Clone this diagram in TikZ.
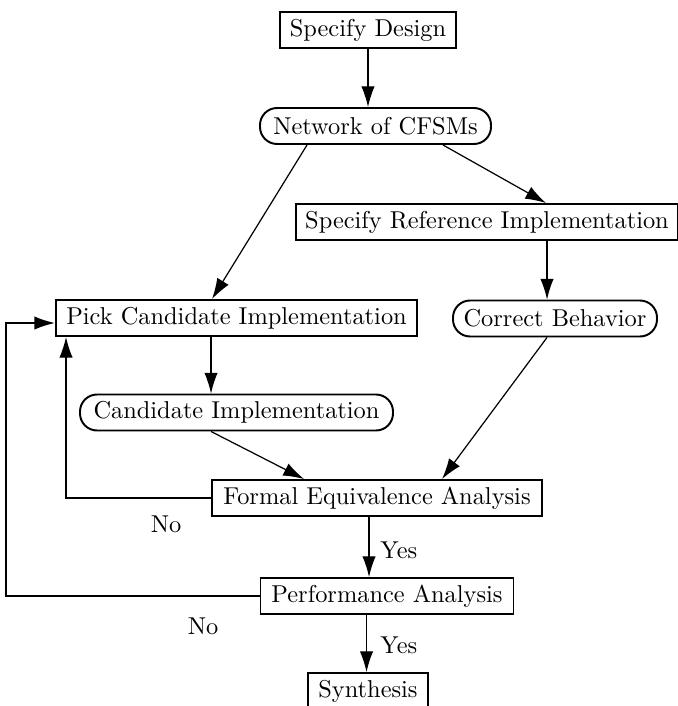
\documentclass[tikz,border=0pt]{standalone}
\usetikzlibrary{arrows.meta,calc}
\begin{document}
\begin{tikzpicture}[x=0.41pt,y=-0.41pt,
 box/.style={draw,line width=0.8pt,minimum height=36*0.41pt,inner sep=0pt,font=\fontsize{10}{12}\selectfont},
 rbox/.style={box,rounded corners=7pt},
 wd/.style={minimum width=#1*0.41pt},
 conn/.style={line width=0.5pt,-{Latex[length=8.5pt,width=5.5pt]}},
 lbl/.style={font=\fontsize{10}{12}\selectfont,inner sep=0pt}]
\useasboundingbox (0,0) rectangle (678,706);
\node[box,wd=176] (sd) at (368,30) {Specify Design};
\node[rbox,wd=231] (net) at (375.5,126) {Network of CFSMs};
\node[box,wd=382] (sri) at (487,222) {Specify Reference Implementation};
\node[box,wd=361] (pick) at (236.5,318) {Pick Candidate Implementation};
\node[rbox,wd=204] (cb) at (555,318.5) {Correct Behavior};
\node[rbox,wd=313] (ci) at (236.5,412.5) {Candidate Implementation};
\node[box,wd=330] (fea) at (377,498) {Formal Equivalence Analysis};
\node[box,wd=253] (pa) at (387,596) {Performance Analysis};
\node[box,wd=120] (syn) at (368,691) {Synthesis};
\node[lbl,anchor=west] (y1) at (380,550) {Yes};
\node[lbl,anchor=west] (y2) at (380,645) {Yes};
\node[lbl] (no1) at (166,524) {No};
\node[lbl] (no2) at (203,626) {No};
\draw[conn] (sd.south) -- (sd.south |- net.north);
\draw[conn] ($(net.south west)+(48,0)$) -- ($(pick.north west)+(157,0)$);
\draw[conn] ($(net.south east)+(-49,0)$) -- ($(sri.north west)+(251,0)$);
\coordinate (a) at ($(sri.south west)+(252,0)$);
\draw[conn] (a) -- (a |- cb.north);
\coordinate (b) at ($(pick.south west)+(156,0)$);
\draw[conn] (b) -- (b |- ci.north);
\draw[conn] ($(ci.south west)+(132,0)$) -- ($(fea.north west)+(93,0)$);
\draw[conn] ($(cb.south west)+(95,0)$) -- ($(fea.north west)+(231,0)$);
\coordinate (c) at ($(fea.south west)+(158,0)$);
\draw[conn] (c) -- (c |- pa.north);
\coordinate (d) at ($(pa.south west)+(107,0)$);
\draw[conn] (d) -- (d |- syn.north);
\draw[conn] (fea.west) -| ($(pick.south west)+(11,0)$);
\draw[conn,line width=0.7pt] (pa.west) -| ($(pick.west)+(-49,5)$) -- ($(pick.west)+(0,5)$);
\end{tikzpicture}
\end{document}
